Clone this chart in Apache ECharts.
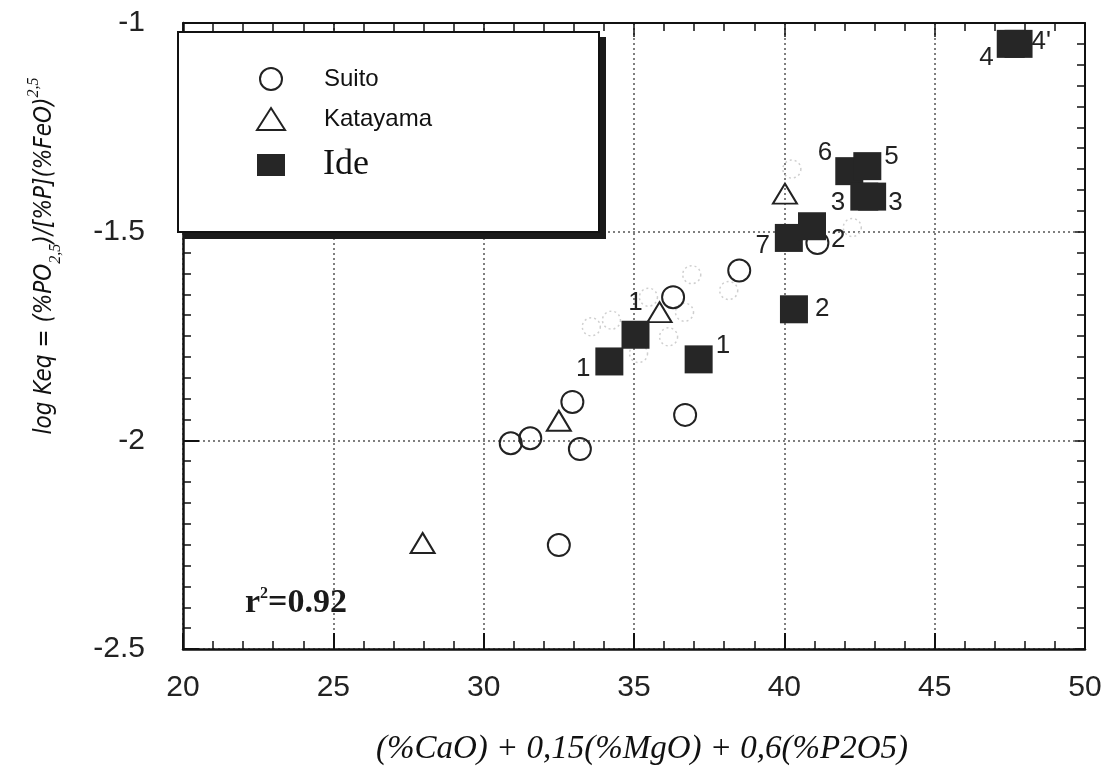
<!DOCTYPE html>
<html>
<head>
<meta charset="utf-8">
<script src="https://cdn.jsdelivr.net/npm/echarts@6/dist/echarts.min.js"></script>
<style>
  html, body { margin: 0; padding: 0; background: #fff; }
  #chart { width: 1117px; height: 771px; }
</style>
</head>
<body>
<div id="chart"></div>
<script>
// Basicity index (%CaO) + 0.15(%MgO) + 0.6(%P2O5) vs. log Keq
const suitoX = [30.9, 31.55, 32.95, 33.2, 32.5, 36.7, 36.3, 38.5, 41.1];
const suitoY = [-2.007, -1.995, -1.908, -2.021, -2.251, -1.939, -1.657, -1.593, -1.527];

const katayamaX = [27.97, 32.5, 35.85, 40.02];
const katayamaY = [-2.246, -1.953, -1.693, -1.409];

const ideX = [34.18, 35.05, 37.15, 40.32, 40.15, 40.92, 42.16, 42.76, 42.66, 42.92, 47.53, 47.79];
const ideY = [-1.811, -1.747, -1.806, -1.686, -1.515, -1.487, -1.355, -1.343, -1.416, -1.416, -1.05, -1.05];
const ideLabels = ['1', '1', '1', '2', '7', '2', '6', '5', '3', '3', '4', "4'"];

// faded marks of the scanned figure
const fadedX = [36.92, 36.15, 35.48, 33.58, 34.25, 36.68, 38.15, 35.15, 40.25, 42.26];
const fadedY = [-1.603, -1.752, -1.657, -1.728, -1.712, -1.693, -1.641, -1.792, -1.35, -1.49];

const xTicks = { min: 20, max: 50, step: 5 };
const yTicks = { min: -2.5, max: -1, step: 0.5 };

// where each Ide number sits around its square
const ideLabelPlacement = [
  ['left', [0, 7]], ['top', [0, 0]], ['right', [-2, -14]], ['right', [2, 0]],
  ['left', [0, 8]], ['right', [0, 14]], ['left', [2, -18]], ['right', [-2, -9]],
  ['left', [0, 6]], ['right', [-3, 6]], ['left', [2, 14]], ['right', [-6, -2]]
];

const zip = (xs, ys) => xs.map((x, i) => [x, ys[i]]);

const ideData = ideX.map((x, i) => ({
  value: [x, ideY[i]],
  label: {
    show: true,
    formatter: ideLabels[i],
    position: ideLabelPlacement[i][0],
    offset: ideLabelPlacement[i][1]
  }
}));

const chart = echarts.init(document.getElementById('chart'), null, { renderer: 'canvas' });

const sans = 'Liberation Sans, Arial, sans-serif';
const serif = 'Liberation Serif, Times New Roman, serif';

const baseX = {
  type: 'value', min: xTicks.min, max: xTicks.max, interval: xTicks.step
};
const baseY = {
  type: 'value', min: yTicks.min, max: yTicks.max, interval: yTicks.step
};

chart.setOption({
  backgroundColor: '#fff',
  animation: false,
  grid: { left: 183, right: 32, top: 23, bottom: 114 },
  xAxis: [
    Object.assign({}, baseX, {
      position: 'bottom',
      name: '(%CaO) + 0,15(%MgO) + 0,6(%P2O5)',
      nameLocation: 'middle',
      nameGap: 84,
      nameTextStyle: { fontFamily: serif, fontStyle: 'italic', fontSize: 33, color: '#111', padding: [0, 0, 0, 16] },
      axisLine: { lineStyle: { color: '#111', width: 2.5 } },
      axisTick: { inside: true, length: 16, lineStyle: { color: '#111', width: 2 } },
      minorTick: { show: true, splitNumber: 5, length: 8, lineStyle: { color: '#111', width: 1.5 } },
      axisLabel: { fontFamily: sans, fontSize: 30, color: '#222', margin: 24 },
      splitLine: { show: true, lineStyle: { color: '#555', width: 1.5, type: [2, 3] } }
    }),
    Object.assign({}, baseX, {
      position: 'top',
      axisLine: { lineStyle: { color: '#111', width: 1.8 } },
      axisTick: { inside: true, length: 14, lineStyle: { color: '#111', width: 1.5 } },
      minorTick: { show: true, splitNumber: 5, length: 8, lineStyle: { color: '#111', width: 1.5 } },
      axisLabel: { show: false },
      splitLine: { show: false }
    })
  ],
  yAxis: [
    Object.assign({}, baseY, {
      position: 'left',
      axisLine: { lineStyle: { color: '#111', width: 2.5 } },
      axisTick: { inside: true, length: 16, lineStyle: { color: '#111', width: 2 } },
      minorTick: { show: true, splitNumber: 10, length: 8, lineStyle: { color: '#111', width: 1.5 } },
      axisLabel: { fontFamily: sans, fontSize: 30, color: '#222', margin: 38 },
      splitLine: { show: true, lineStyle: { color: '#555', width: 1.5, type: [2, 3] } }
    }),
    Object.assign({}, baseY, {
      position: 'right',
      axisLine: { lineStyle: { color: '#111', width: 2 } },
      axisTick: { inside: true, length: 10, lineStyle: { color: '#111', width: 1.5 } },
      minorTick: { show: true, splitNumber: 10, length: 8, lineStyle: { color: '#111', width: 1.5 } },
      axisLabel: { show: false },
      splitLine: { show: false }
    })
  ],
  legend: {
    orient: 'vertical',
    left: 251,
    top: 62,
    itemWidth: 28,
    itemHeight: 22,
    itemGap: 16,
    z: 30,
    data: [
      { name: 'Suito', icon: 'circle' },
      { name: 'Katayama', icon: 'triangle' },
      { name: 'Ide', icon: 'rect' }
    ],
    formatter: name => name === 'Ide' ? '{ide|Ide}' : '{sans|' + name + '}',
    textStyle: {
      rich: {
        sans: { fontFamily: sans, fontSize: 24, color: '#111', lineHeight: 26, padding: [0, 0, 0, 34] },
        ide: { fontFamily: serif, fontSize: 36, color: '#111', lineHeight: 30, padding: [0, 0, 0, 33] }
      }
    }
  },
  graphic: [
    {
      type: 'rect',
      z: 19,
      shape: { x: 183, y: 37, width: 423, height: 202 },
      style: { fill: '#1a1a1a' }
    },
    {
      type: 'rect',
      z: 20,
      shape: { x: 178, y: 32, width: 421, height: 200 },
      style: { fill: '#fff', stroke: '#111', lineWidth: 2 }
    },
    {
      type: 'text',
      z: 20,
      x: 45,
      y: 256,
      rotation: Math.PI / 2,
      style: {
        text: 'log Keq = (%PO{sub|2,5})/[%P](%FeO){sup|2,5}',
        font: 'italic 24px "Liberation Sans Narrow", "DejaVu Sans Condensed", sans-serif',
        fill: '#111',
        align: 'center',
        verticalAlign: 'middle',
        lineHeight: 38,
        rich: {
          sub: { fontSize: 16, fontStyle: 'italic', fontFamily: 'Liberation Sans Narrow', verticalAlign: 'bottom', lineHeight: 16 },
          sup: { fontSize: 16, fontStyle: 'italic', fontFamily: 'Liberation Sans Narrow', verticalAlign: 'top', lineHeight: 16 }
        }
      }
    },
    {
      type: 'text',
      z: 20,
      x: 245,
      y: 603,
      style: {
        text: 'r{sup|2}=0.92',
        font: 'bold 34px "Liberation Serif", serif',
        fill: '#1a1a1a',
        align: 'left',
        verticalAlign: 'middle',
        lineHeight: 34,
        rich: {
          sup: { fontSize: 16, fontWeight: 'bold', fontFamily: 'Liberation Serif', verticalAlign: 'top', lineHeight: 34 }
        }
      }
    }
  ],
  series: [
    {
      name: 'faded',
      type: 'scatter',
      silent: true,
      symbol: 'circle',
      symbolSize: 18,
      itemStyle: { opacity: 1, color: 'rgba(255,255,255,0)', borderColor: '#cfcfcf', borderWidth: 1.5, borderType: [2, 3] },
      data: zip(fadedX, fadedY),
      z: 1
    },
    {
      name: 'Suito',
      type: 'scatter',
      symbol: 'circle',
      symbolSize: 22,
      itemStyle: { opacity: 1, color: 'rgba(255,255,255,0)', borderColor: '#222', borderWidth: 2 },
      data: zip(suitoX, suitoY),
      z: 3
    },
    {
      name: 'Katayama',
      type: 'scatter',
      symbol: 'triangle',
      symbolSize: [24, 20],
      itemStyle: { opacity: 1, color: 'rgba(255,255,255,0)', borderColor: '#222', borderWidth: 2 },
      data: zip(katayamaX, katayamaY),
      z: 4
    },
    {
      name: 'Ide',
      type: 'scatter',
      symbol: 'rect',
      symbolSize: 28,
      itemStyle: { opacity: 1, color: '#262626' },
      label: { fontFamily: sans, fontSize: 26, color: '#222', distance: 5 },
      data: ideData,
      z: 5
    }
  ]
});
</script>
</body>
</html>
